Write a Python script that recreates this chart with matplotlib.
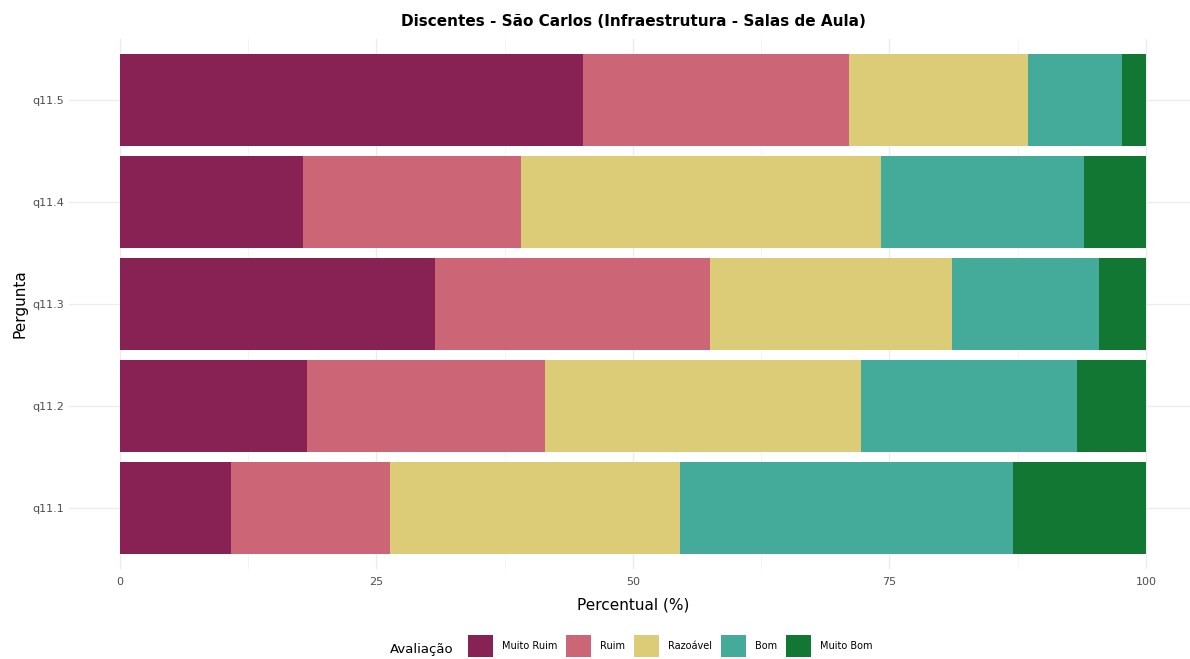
import matplotlib
matplotlib.use("Agg")
import matplotlib.pyplot as plt
import numpy as np
from matplotlib.patches import Patch

# Data (percent per rating, per question)
questions = ["q11.1", "q11.2", "q11.3", "q11.4", "q11.5"]
ratings = ["Muito Ruim", "Ruim", "Razoável", "Bom", "Muito Bom"]
colors = ["#882255", "#CC6677", "#DDCC77", "#44AA99", "#117733"]

muito_ruim = [10.8, 18.2, 30.7, 17.8, 45.1]
ruim = [15.5, 23.2, 26.8, 21.3, 26.0]
razoavel = [28.3, 30.8, 23.6, 35.1, 17.4]
bom = [32.4, 21.1, 14.3, 19.8, 9.2]
muito_bom = [13.0, 6.7, 4.6, 6.0, 2.3]

series = [muito_ruim, ruim, razoavel, bom, muito_bom]

fig = plt.figure(figsize=(11.9, 6.59), dpi=100)
# axes placed so that 0 -> px 120 and 100 -> px 1146 with 5% expansion
ax = fig.add_axes([68.7 / 1190, 1 - 569 / 659, 1128.6 / 1190, 530 / 659])

y = np.arange(len(questions))
left = np.zeros(len(questions))
for vals, col in zip(series, colors):
    ax.barh(y, vals, left=left, height=0.9, color=col, zorder=2)
    left += np.array(vals)

ax.set_xlim(-5, 105)
ax.set_ylim(-0.6, len(questions) - 0.4)
ax.set_yticks(y)
ax.set_yticklabels(questions)
ax.set_xticks([0, 25, 50, 75, 100])
ax.set_xticks([12.5, 37.5, 62.5, 87.5], minor=True)

ax.grid(True, which="major", color="#EBEBEB", linewidth=0.9, zorder=0)
ax.grid(True, which="minor", axis="x", color="#F2F2F2", linewidth=0.6, zorder=0)
for s in ax.spines.values():
    s.set_visible(False)
ax.tick_params(which="both", length=0, labelsize=8, labelcolor="#4D4D4D")
ax.tick_params(axis="x", pad=6)

ax.set_xlabel("Percentual (%)", fontsize=11, labelpad=7)
ax.set_ylabel("Pergunta", fontsize=11)
# put the y label where the reference has it (centre x ~ 20 px)
ax.yaxis.set_label_coords((27 - 68.7) / 1128.6, 0.5)
fig.text(633 / 1190, 1 - 22 / 659, "Discentes - São Carlos (Infraestrutura - Salas de Aula)",
         ha="center", va="center", fontsize=11, fontweight="bold")

handles = [Patch(facecolor=c, edgecolor="none") for c in colors]
fig.legend(handles, ratings, loc="center", bbox_to_anchor=(670 / 1190, 1 - 646 / 659),
           ncol=5, frameon=False, fontsize=7, handlelength=2.6, handleheight=3.0,
           handletextpad=0.9, columnspacing=0.9)
fig.text(422 / 1190, 1 - 649 / 659, "Avaliação", ha="center", va="center", fontsize=9.5)

fig.savefig("out.png", dpi=100)
